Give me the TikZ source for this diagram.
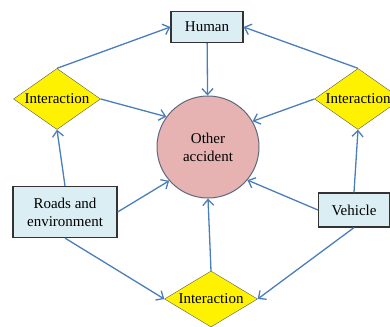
\documentclass[tikz,border=0pt]{standalone}
\usepackage{fontspec}
\setmainfont{Liberation Serif}
\usepackage{tikz}
\usetikzlibrary{positioning,arrows.meta,shapes.geometric}

\definecolor{linkblue}{RGB}{74,126,187}
\definecolor{boxfill}{RGB}{219,238,244}
\definecolor{accfill}{RGB}{230,178,178}
\definecolor{accline}{RGB}{95,105,125}

\begin{document}
\begin{tikzpicture}[x=1pt,y=-1pt,
  font=\fontsize{15}{18}\selectfont,
  factor/.style={rectangle,draw=black!80,line width=1.2pt,fill=boxfill,align=center,inner sep=1pt},
  inter/.style={diamond,shape aspect=1.5,draw=gray!70!black,fill=yellow,inner sep=0pt},
  link/.style={draw=linkblue,line width=1.3pt,-{Straight Barb[length=6pt,width=11pt]}}]
  \clip (0,0) rectangle (390,326);
  \node[circle,draw=accline,fill=accfill,line width=1pt,minimum size=102pt,align=center] (acc) at (208,147) {Other\\accident};
  \node[factor,minimum width=72pt,minimum height=31pt] (human) at (207,27) {Human};
  \node[factor,minimum width=104pt,minimum height=51pt] (roads) at (65,212) {Roads and\\environment};
  \node[factor,minimum width=71pt,minimum height=34pt] (veh) at (354,210) {Vehicle};
  \node[inter,minimum width=87pt,minimum height=61pt] (intL) at (57,99) {Interaction};
  \node[inter,minimum width=87pt,minimum height=61pt] (intR) at (358,99) {Interaction};
  \node[inter,minimum width=93pt,minimum height=56pt] (intB) at (211,299) {Interaction};
  % into the accident
  \draw[link] (human) -- (acc);
  \draw[link] (intL.east) -- (acc.144);
  \draw[link] (intR.west) -- (acc.30);
  \draw[link] (roads.east) -- (acc.221);
  \draw[link] (veh.west) -- (acc.320);
  \draw[link] (intB.north) -- (acc.south);
  % up to human
  \draw[link] (intL.north) -- (human.west);
  \draw[link] (intR.north) -- (human.east);
  % factors to interactions
  \draw[link] (roads.north) -- (intL.south);
  \draw[link] (veh.north) -- (intR.south);
  \draw[link] (roads.south) -- (intB.west);
  \draw[link] (veh.south) -- (intB.east);
\end{tikzpicture}
\end{document}
